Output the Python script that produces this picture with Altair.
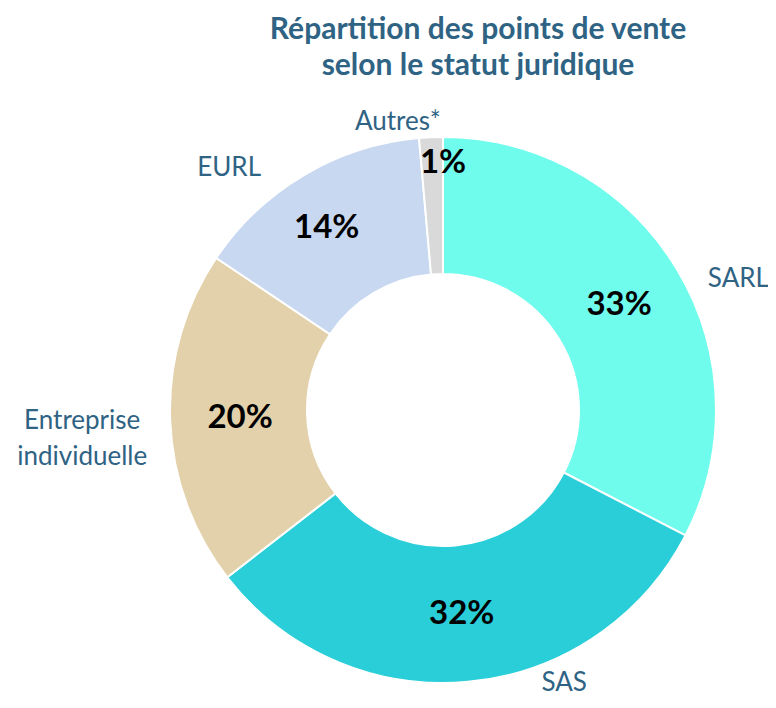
import altair as alt
import pandas as pd

categories = ["SARL", "SAS", "Entreprise individuelle", "EURL", "Autres*"]
values = [32.6, 31.9, 19.9, 14.2, 1.4]
pct_labels = ["33%", "32%", "20%", "14%", "1%"]
colors = ["#6FFCEC", "#29CED8", "#E2D1AA", "#C7D8F0", "#D9D9D9"]
title_lines = ["Répartition des points de vente", "selon le statut juridique"]

df = pd.DataFrame({
    "idx": list(range(len(categories))),
    "cat": categories,
    "value": values,
    "pct": pct_labels,
})
total = sum(values)

CX, CY = 435, 402
FONT = "Lato"
BLUE = "#2F6384"

base = alt.Chart(df).transform_stack(
    stack="value", groupby=[], as_=["v0", "v1"], sort=[alt.SortField("idx")]
).transform_calculate(mid="(datum.v0 + datum.v1) / 2")

theta_scale = alt.Scale(domain=[0, total])

arcs = base.mark_arc(innerRadius=136, outerRadius=273, stroke="white", strokeWidth=2).encode(
    theta=alt.Theta("v0:Q", scale=theta_scale),
    theta2="v1:Q",
    color=alt.Color("cat:N", scale=alt.Scale(domain=categories, range=colors), legend=None),
    x=alt.value(CX),
    y=alt.value(CY),
)


def label_layer(cat, field, radius, dx, dy, size, weight, color, line_break=None):
    kw = dict(radius=radius, dx=dx, dy=dy, fontSize=size, fontWeight=weight, font=FONT,
              color=color, align="center", baseline="middle")
    if line_break:
        kw["lineBreak"] = line_break
        kw["lineHeight"] = 36
    return base.transform_filter(alt.datum.cat == cat).mark_text(**kw).encode(
        theta=alt.Theta("mid:Q", scale=theta_scale),
        text=f"{field}:N",
        x=alt.value(CX),
        y=alt.value(CY),
    )


pct_offsets = {
    "SARL": (1, 2),
    "SAS": (0, 0),
    "Entreprise individuelle": (2, 1),
    "EURL": (-12, -6),
    "Autres*": (9, -42),
}
cat_offsets = {
    "SARL": (22, 35),
    "SAS": (92, -46),
    "Entreprise individuelle": (-41, 0),
    "EURL": (-51, 33),
    "Autres*": (-31, 32),
}

layers = [arcs]
for c in categories:
    dx, dy = pct_offsets[c]
    layers.append(label_layer(c, "pct", 205, dx, dy, 33, "bold", "black"))
for c in categories:
    dx, dy = cat_offsets[c]
    lb = " " if c == "Entreprise individuelle" else None
    layers.append(label_layer(c, "cat", 320, dx, dy, 26, "normal", BLUE, lb))

title = alt.Chart(pd.DataFrame({"t": [0]})).mark_text(
    text=title_lines, font=FONT, fontSize=30, fontWeight="bold", color=BLUE,
    align="center", baseline="alphabetic", lineHeight=36,
).encode(x=alt.value(470), y=alt.value(31))

chart = alt.layer(*layers, title).properties(
    width=760, height=692, autosize=alt.AutoSizeParams(type="none"), padding=0
).configure_view(stroke=None)

chart.save("out.html", embed_options={"renderer": "svg", "actions": False})
